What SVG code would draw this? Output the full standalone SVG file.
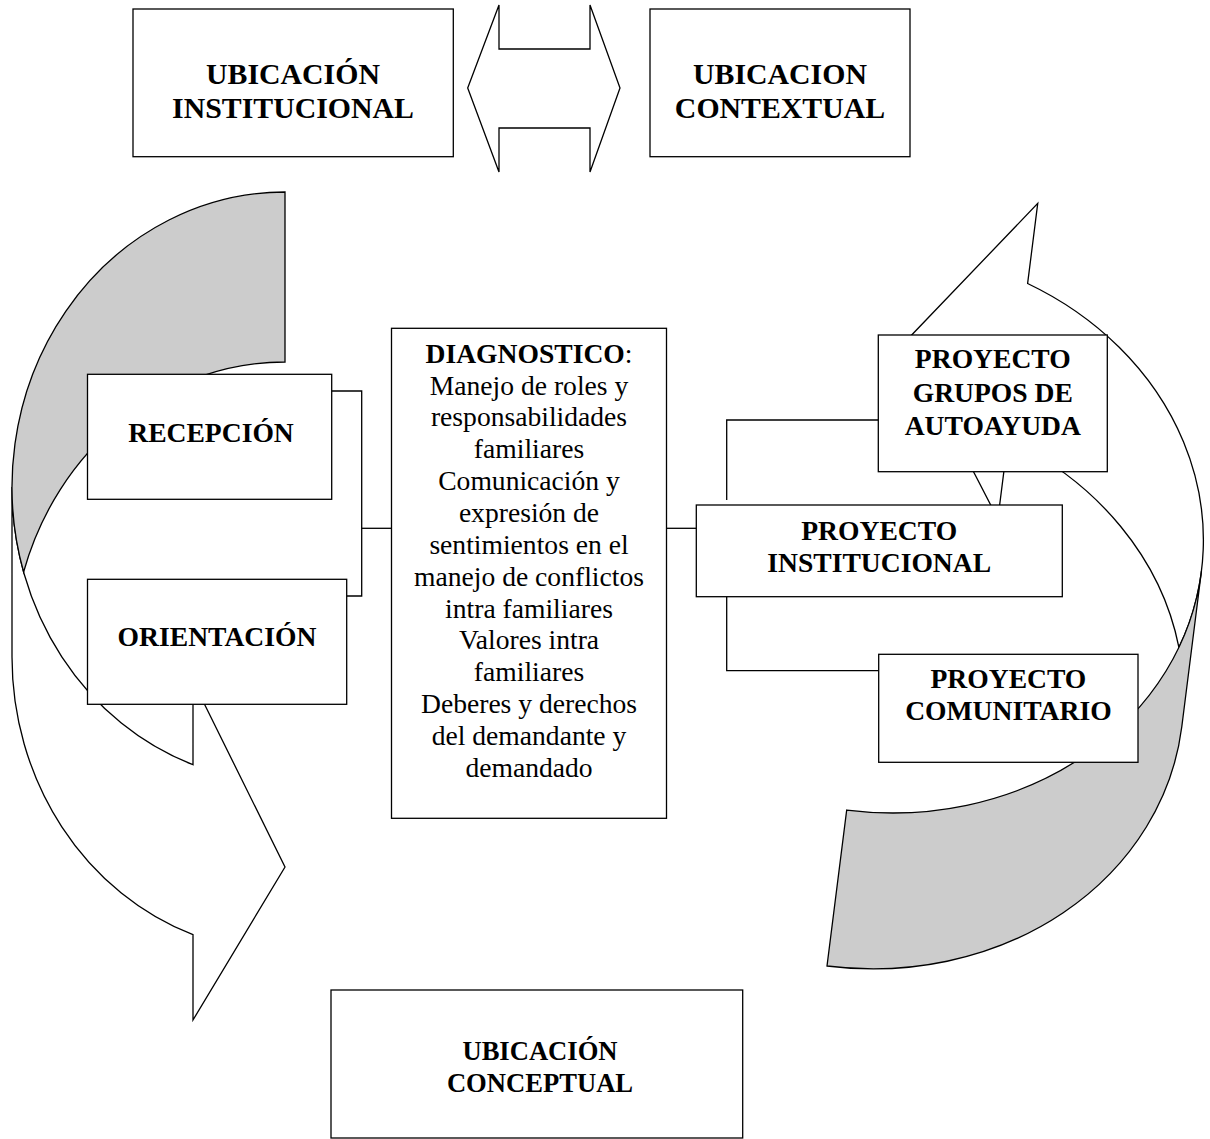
<svg xmlns="http://www.w3.org/2000/svg" width="1210" height="1139" viewBox="0 0 1210 1139">
<style>
.ln{fill:none;stroke:#000;stroke-width:1.3}
.box{fill:#fff;stroke:#000;stroke-width:1.3}
.wh{fill:#fff;stroke:#000;stroke-width:1.3;stroke-linejoin:miter}
.gr{fill:#cccccc;stroke:#000;stroke-width:1.3}
.t{font-family:"Liberation Serif","Times New Roman",serif;font-size:27.6px;text-anchor:middle;fill:#000}
.b{font-weight:bold}
.big{font-size:29.8px}
.sm{font-size:26.6px}
</style>
<rect width="1210" height="1139" fill="#fff"/>
<g id="arrow-left">
<path class="wh" d="M 12,487 A 273 295 0 0 0 193,764.7 L 193,681 L 285,867 L 193,1020 L 193,934.7 A 273 295 0 0 1 12,657 Z"/>
<path class="gr" d="M 285,192 L 285,362 A 273 295 0 0 0 23.6,572 A 273 295 0 0 1 285,192 Z"/>
</g>
<g id="arrow-right" transform="translate(827,966) rotate(187.2)">
<path class="wh" d="M -309.2,360.2 A 322 281.6 0 0 0 -113.5,545.1 L -113.5,465 L 0,630 L -113.5,783 L -113.5,702.3 A 322 281.6 0 0 1 -309.2,360.2 Z"/>
<path class="gr" d="M 0,0 L 0,157.2 A 322 281.6 0 0 0 -322,438.8 L -322,281.6 A 322 281.6 0 0 1 0,0 Z"/>
</g>
<g id="arrow-double">
<polygon class="wh" points="467.7,88 499,5 499,49 590,49 590,5 620,88 590,172 590,128 499,128 499,172"/>
</g>
<g id="connectors">
<polyline class="ln" points="331.5,391 361.7,391 361.7,596 346.5,596"/>
<line class="ln" x1="361.7" y1="528.3" x2="391.5" y2="528.3"/>
<line class="ln" x1="666.5" y1="528.3" x2="696.5" y2="528.3"/>
<polyline class="ln" points="726.7,500 726.7,420 878.3,420"/>
<polyline class="ln" points="726.7,597 726.7,670.7 878.5,670.7"/>
</g>
<g id="ubicacion-institucional">
<rect class="box" x="133" y="9" width="320.3" height="147.7"/>
<text class="t b big" x="293" y="84">UBICACIÓN</text>
<text class="t b big" x="293" y="118">INSTITUCIONAL</text>
</g>
<g id="ubicacion-contextual">
<rect class="box" x="650" y="9" width="260" height="147.7"/>
<text class="t b big" x="780" y="84">UBICACION</text>
<text class="t b big" x="780" y="118">CONTEXTUAL</text>
</g>
<g id="recepcion">
<rect class="box" x="87.5" y="374.3" width="244.2" height="125"/>
<text class="t b" x="211" y="441.7">RECEPCIÓN</text>
</g>
<g id="orientacion">
<rect class="box" x="87.5" y="579.3" width="259.2" height="125"/>
<text class="t b" x="217" y="645.7">ORIENTACIÓN</text>
</g>
<g id="diagnostico">
<rect class="box" x="391.5" y="328.3" width="275" height="490"/>
<text class="t" x="529" y="362.7"><tspan class="b">DIAGNOSTICO</tspan>:</text>
<text class="t" x="529" y="394.5">Manejo de roles y</text>
<text class="t" x="529" y="426.4">responsabilidades</text>
<text class="t" x="529" y="458.2">familiares</text>
<text class="t" x="529" y="490.1">Comunicación y</text>
<text class="t" x="529" y="521.9">expresión de</text>
<text class="t" x="529" y="553.8">sentimientos en el</text>
<text class="t" x="529" y="585.6">manejo de conflictos</text>
<text class="t" x="529" y="617.5">intra familiares</text>
<text class="t" x="529" y="649.3">Valores intra</text>
<text class="t" x="529" y="681.2">familiares</text>
<text class="t" x="529" y="713">Deberes y derechos</text>
<text class="t" x="529" y="744.9">del demandante y</text>
<text class="t" x="529" y="776.7">demandado</text>
</g>
<g id="proyecto-grupos">
<rect class="box" x="878.3" y="335" width="229" height="136.7"/>
<text class="t b" x="992.8" y="368.3">PROYECTO</text>
<text class="t b" x="992.8" y="401.7">GRUPOS DE</text>
<text class="t b" x="992.8" y="435">AUTOAYUDA</text>
</g>
<g id="proyecto-institucional">
<rect class="box" x="696.3" y="505" width="366" height="91.7"/>
<text class="t b" x="879.2" y="540">PROYECTO</text>
<text class="t b" x="879.2" y="571.7">INSTITUCIONAL</text>
</g>
<g id="proyecto-comunitario">
<rect class="box" x="878.7" y="654.3" width="259.3" height="108"/>
<text class="t b" x="1008.4" y="688.3">PROYECTO</text>
<text class="t b" x="1008.4" y="720">COMUNITARIO</text>
</g>
<g id="ubicacion-conceptual">
<rect class="box" x="331" y="990" width="411.7" height="148"/>
<text class="t b sm" x="540" y="1060">UBICACIÓN</text>
<text class="t b sm" x="540" y="1091.7">CONCEPTUAL</text>
</g>
</svg>
